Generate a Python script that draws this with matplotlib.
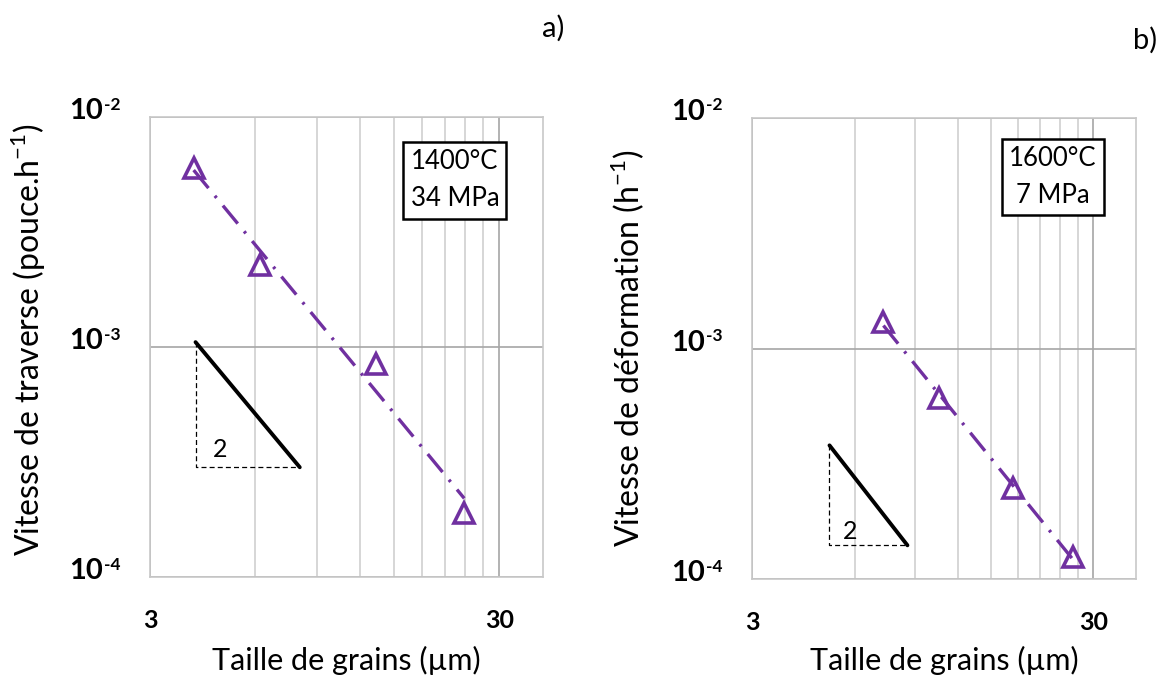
import numpy as np
import matplotlib
matplotlib.use("Agg")
import matplotlib.pyplot as plt
from matplotlib.ticker import FixedLocator, NullFormatter, FixedFormatter

plt.rcParams['font.family'] = ['Lato', 'DejaVu Sans']
plt.rcParams['mathtext.fontset'] = 'custom'
plt.rcParams['mathtext.rm'] = 'Lato'
plt.rcParams['mathtext.bf'] = 'Lato:bold'

# ---- data ----
# panel a) 1400°C, 34 MPa
grain_a = [4.0, 6.2, 13.3, 23.8]
rate_a = [6.0e-3, 2.27e-3, 8.4e-4, 1.9e-4]
slope_x_a = [4.05, 8.05]
slope_y_a = [1.05e-3, 3.0e-4]
slope_lab_a = (4.55, 3.6e-4)

# panel b) 1600°C, 7 MPa
grain_b = [7.28, 10.6, 17.5, 26.1]
rate_b = [1.30e-3, 6.1e-4, 2.48e-4, 1.25e-4]
slope_x_b = [5.06, 8.56]
slope_y_b = [3.8e-4, 1.40e-4]
slope_lab_b = (5.55, 1.6e-4)

x_ticks = [3, 30]
x_ticklabels = ['3', '30']
x_minor = [6, 9, 12, 15, 18, 21, 24, 27]
y_ticks = [1e-4, 1e-3, 1e-2]
y_tick_base = ['10', '10', '10']
y_tick_exp = ['-4', '-3', '-2']

ylabels = ['Vitesse de traverse (pouce.h$^{-1}$)', 'Vitesse de déformation (h$^{-1}$)']
xlabel = 'Taille de grains (µm)'
box_texts = ['1400°C\n34 MPa', '1600°C\n7 MPa']
panel_labels = ['a)', 'b)']

purple = '#7030A0'

W, H = 1167, 680
fig = plt.figure(figsize=(W / 100, H / 100), dpi=100)
ax_a = fig.add_axes([150/W, 1-577/H, 393/W, 460/H])
ax_b = fig.add_axes([752/W, 1-579/H, 384/W, 461/H])

panels = [
    (ax_a, grain_a, rate_a, slope_x_a, slope_y_a, slope_lab_a, (0.776, 0.862)),
    (ax_b, grain_b, rate_b, slope_x_b, slope_y_b, slope_lab_b, (0.784, 0.872)),
]
ylabel_pos = [(28/W, 1-340/H), (628/W, 1-348/H)]
xlabel_y = [1-660/H, 1-660/H]

for i, (ax, gx, gy, sx, sy, slab, boxpos) in enumerate(panels):
    ax.set_xscale('log')
    ax.set_yscale('log')
    ax.set_xlim(3, 40)
    ax.set_ylim(1e-4, 1e-2)

    ax.xaxis.set_major_locator(FixedLocator(x_ticks))
    ax.xaxis.set_major_formatter(FixedFormatter(x_ticklabels))
    ax.xaxis.set_minor_locator(FixedLocator(x_minor))
    ax.xaxis.set_minor_formatter(NullFormatter())
    ax.yaxis.set_major_locator(FixedLocator(y_ticks))
    ax.yaxis.set_major_formatter(NullFormatter())
    ax.yaxis.set_minor_locator(FixedLocator([]))

    ax.grid(True, which='major', color='#A6A6A6', lw=1.2)
    ax.grid(True, which='minor', axis='x', color='#D0D0D0', lw=1.2)
    ax.set_axisbelow(True)
    for sp in ax.spines.values():
        sp.set_color('#C8C8C8')
        sp.set_linewidth(1.2)
    ax.tick_params(which='both', length=0)
    ax.tick_params(axis='x', pad=23, labelsize=18)
    for lab in ax.get_xticklabels():
        lab.set_fontweight('bold')

    # y tick labels: bold "10" with small superscript exponent
    for yt, b, e in zip(y_ticks, y_tick_base, y_tick_exp):
        ax.annotate(b, xy=(0, yt), xycoords=('axes fraction', 'data'),
                    xytext=(-34, 4), textcoords='offset points',
                    ha='right', va='center', fontsize=21, fontweight='bold')
        ax.annotate(e, xy=(0, yt), xycoords=('axes fraction', 'data'),
                    xytext=(-33, 9), textcoords='offset points',
                    ha='left', va='center', fontsize=12.5, fontweight='bold')

    # fitted power-law trend line
    lx = np.log10(gx)
    ly = np.log10(gy)
    p = np.polyfit(lx, ly, 1)
    fx = np.array([min(gx), max(gx)])
    fy = 10 ** np.polyval(p, np.log10(fx))
    ax.plot(fx, fy, color=purple, lw=2.4, linestyle=(0, (7, 3, 0.8, 3)), zorder=3)
    ax.plot(gx, gy, linestyle='none', marker='^', ms=14, mfc='none',
            mec=purple, mew=2.6, zorder=4)

    # slope triangle
    ax.plot(sx, sy, color='black', lw=2.8, solid_capstyle='round', zorder=3)
    ax.plot([sx[0], sx[0], sx[1]], [sy[0], sy[1], sy[1]], color='black',
            lw=0.9, linestyle=(0, (4, 2.5)), zorder=3)
    ax.text(slab[0], slab[1], '2', fontsize=18, ha='left', va='center')

    ax.text(boxpos[0], boxpos[1], box_texts[i], transform=ax.transAxes,
            fontsize=18.5, ha='center', va='center', linespacing=1.6,
            bbox=dict(boxstyle='square,pad=0.28', fc='white', ec='black', lw=1.8))

    fig.text(ax.get_position().x0 + ax.get_position().width / 2, xlabel_y[i],
             xlabel, fontsize=22, ha='center', va='center')
    fig.text(ylabel_pos[i][0], ylabel_pos[i][1], ylabels[i], fontsize=23,
             ha='center', va='center', rotation=90)

fig.text(553/W, 1-28/H, panel_labels[0], fontsize=21, ha='center', va='center')
fig.text(1145/W, 1-40/H, panel_labels[1], fontsize=21, ha='center', va='center')

fig.savefig('out.png', dpi=100, facecolor='white')
